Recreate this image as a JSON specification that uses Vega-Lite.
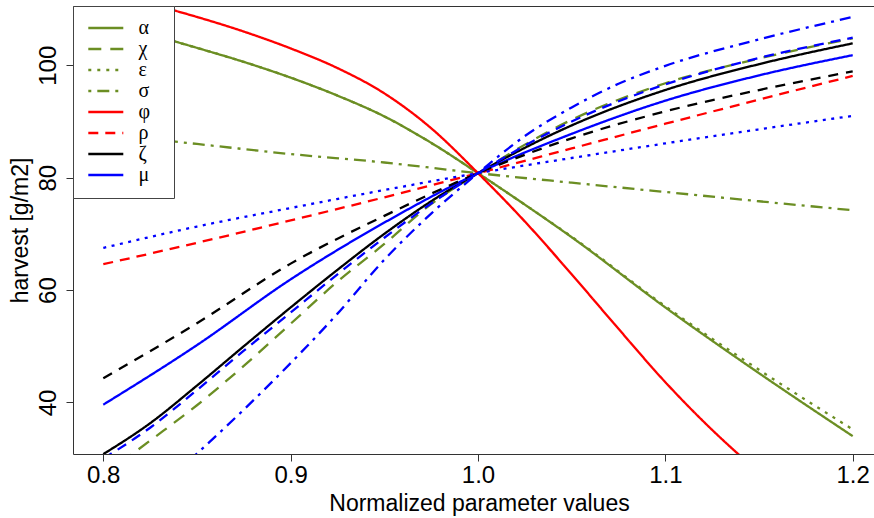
{
  "$schema": "https://vega.github.io/schema/vega-lite/v6.json",
  "autosize": {"type": "none"},
  "padding": {"left": 73, "top": 6, "right": 0, "bottom": 64},
  "width": 801,
  "height": 448,
  "background": "white",
  "config": {
    "view": {"stroke": null},
    "font": "Liberation Sans",
    "axis": {
      "grid": false,
      "domainColor": "#333",
      "tickColor": "#333",
      "labelColor": "black",
      "titleColor": "black",
      "labelFont": "Liberation Sans",
      "titleFont": "Liberation Sans",
      "titleFontWeight": "normal",
      "labelFontSize": 24,
      "titleFontSize": 23,
      "tickSize": 7
    },
    "legend": {
      "orient": "top-left",
      "offset": 0,
      "padding": 12.3,
      "strokeColor": "#444",
      "fillColor": "white",
      "cornerRadius": 0,
      "symbolType": "stroke",
      "symbolSize": 1225,
      "symbolStrokeWidth": 2.5,
      "symbolOffset": 1.5,
      "labelFont": "Liberation Serif",
      "labelFontSize": 20,
      "labelColor": "black",
      "labelOffset": 13.75,
      "clipHeight": 19.5,
      "rowPadding": 0,
      "titleOrient": "right",
      "titlePadding": 11,
      "titleFontSize": 10
    }
  },
  "data": {
    "values": [
      {"s": "α", "x": 0.8, "y": 107.8}, {"s": "α", "x": 0.85, "y": 103.1}, {"s": "α", "x": 0.875, "y": 100.6}, {"s": "α", "x": 0.9, "y": 97.8}, {"s": "α", "x": 0.925, "y": 94.6}, {"s": "α", "x": 0.95, "y": 90.9}, {"s": "α", "x": 0.975, "y": 86.2}, {"s": "α", "x": 1.0, "y": 80.8}, {"s": "α", "x": 1.025, "y": 75.2}, {"s": "α", "x": 1.05, "y": 69.4}, {"s": "α", "x": 1.1, "y": 56.9}, {"s": "α", "x": 1.15, "y": 45.2}, {"s": "α", "x": 1.2, "y": 34.0},

      {"s": "χ", "x": 0.8, "y": 27.0}, {"s": "χ", "x": 0.825, "y": 33.2}, {"s": "χ", "x": 0.85, "y": 39.5}, {"s": "χ", "x": 0.875, "y": 46.5}, {"s": "χ", "x": 0.9, "y": 54.0}, {"s": "χ", "x": 0.925, "y": 61.5}, {"s": "χ", "x": 0.95, "y": 68.2}, {"s": "χ", "x": 0.975, "y": 75.3}, {"s": "χ", "x": 1.0, "y": 80.8}, {"s": "χ", "x": 1.05, "y": 90.3}, {"s": "χ", "x": 1.1, "y": 96.8}, {"s": "χ", "x": 1.15, "y": 101.2}, {"s": "χ", "x": 1.2, "y": 104.8},

      {"s": "ε", "x": 0.8, "y": 107.8}, {"s": "ε", "x": 0.85, "y": 103.1}, {"s": "ε", "x": 0.875, "y": 100.6}, {"s": "ε", "x": 0.9, "y": 97.8}, {"s": "ε", "x": 0.925, "y": 94.6}, {"s": "ε", "x": 0.95, "y": 90.9}, {"s": "ε", "x": 0.975, "y": 86.2}, {"s": "ε", "x": 1.0, "y": 80.8}, {"s": "ε", "x": 1.025, "y": 75.2}, {"s": "ε", "x": 1.05, "y": 69.5}, {"s": "ε", "x": 1.1, "y": 57.1}, {"s": "ε", "x": 1.15, "y": 45.8}, {"s": "ε", "x": 1.2, "y": 35.2},

      {"s": "σ", "x": 0.8, "y": 87.8}, {"s": "σ", "x": 0.85, "y": 86.0}, {"s": "σ", "x": 0.9, "y": 84.2}, {"s": "σ", "x": 0.95, "y": 82.7}, {"s": "σ", "x": 1.0, "y": 80.8}, {"s": "σ", "x": 1.05, "y": 79.1}, {"s": "σ", "x": 1.1, "y": 77.45}, {"s": "σ", "x": 1.15, "y": 75.8}, {"s": "σ", "x": 1.2, "y": 74.2},

      {"s": "φ", "x": 0.8, "y": 112.8}, {"s": "φ", "x": 0.825, "y": 110.9}, {"s": "φ", "x": 0.85, "y": 108.6}, {"s": "φ", "x": 0.875, "y": 106.0}, {"s": "φ", "x": 0.9, "y": 103.0}, {"s": "φ", "x": 0.925, "y": 99.5}, {"s": "φ", "x": 0.95, "y": 95.0}, {"s": "φ", "x": 0.975, "y": 88.8}, {"s": "φ", "x": 1.0, "y": 80.8}, {"s": "φ", "x": 1.025, "y": 72.2}, {"s": "φ", "x": 1.05, "y": 62.8}, {"s": "φ", "x": 1.075, "y": 53.1}, {"s": "φ", "x": 1.1, "y": 43.6}, {"s": "φ", "x": 1.125, "y": 35.1}, {"s": "φ", "x": 1.15, "y": 27.6}, {"s": "φ", "x": 1.175, "y": 21.0}, {"s": "φ", "x": 1.2, "y": 15.0},

      {"s": "ρ", "x": 0.8, "y": 64.6}, {"s": "ρ", "x": 0.85, "y": 68.4}, {"s": "ρ", "x": 0.9, "y": 72.4}, {"s": "ρ", "x": 0.95, "y": 76.5}, {"s": "ρ", "x": 1.0, "y": 80.8}, {"s": "ρ", "x": 1.05, "y": 85.2}, {"s": "ρ", "x": 1.1, "y": 89.6}, {"s": "ρ", "x": 1.15, "y": 93.9}, {"s": "ρ", "x": 1.2, "y": 98.1},

      {"s": "ζ", "x": 0.8, "y": 30.8}, {"s": "ζ", "x": 0.825, "y": 36.3}, {"s": "ζ", "x": 0.85, "y": 43.0}, {"s": "ζ", "x": 0.875, "y": 50.0}, {"s": "ζ", "x": 0.9, "y": 56.9}, {"s": "ζ", "x": 0.925, "y": 63.6}, {"s": "ζ", "x": 0.95, "y": 70.0}, {"s": "ζ", "x": 0.975, "y": 75.8}, {"s": "ζ", "x": 1.0, "y": 80.8}, {"s": "ζ", "x": 1.05, "y": 89.3}, {"s": "ζ", "x": 1.1, "y": 95.6}, {"s": "ζ", "x": 1.15, "y": 100.2}, {"s": "ζ", "x": 1.2, "y": 103.9},

      {"s": "μ", "x": 0.8, "y": 39.6}, {"s": "μ", "x": 0.85, "y": 50.2}, {"s": "μ", "x": 0.9, "y": 61.9}, {"s": "μ", "x": 0.95, "y": 72.0}, {"s": "μ", "x": 1.0, "y": 80.8}, {"s": "μ", "x": 1.05, "y": 87.8}, {"s": "μ", "x": 1.1, "y": 93.7}, {"s": "μ", "x": 1.15, "y": 98.2}, {"s": "μ", "x": 1.2, "y": 101.8},

      {"s": "η", "x": 0.8, "y": 44.3}, {"s": "η", "x": 0.85, "y": 54.1}, {"s": "η", "x": 0.9, "y": 64.7}, {"s": "η", "x": 0.95, "y": 73.2}, {"s": "η", "x": 1.0, "y": 80.8}, {"s": "η", "x": 1.05, "y": 87.0}, {"s": "η", "x": 1.1, "y": 91.8}, {"s": "η", "x": 1.15, "y": 95.6}, {"s": "η", "x": 1.2, "y": 98.9},

      {"s": "ω", "x": 0.8, "y": 67.5}, {"s": "ω", "x": 0.85, "y": 71.3}, {"s": "ω", "x": 0.9, "y": 74.6}, {"s": "ω", "x": 0.95, "y": 77.8}, {"s": "ω", "x": 1.0, "y": 80.8}, {"s": "ω", "x": 1.05, "y": 83.5}, {"s": "ω", "x": 1.1, "y": 86.1}, {"s": "ω", "x": 1.15, "y": 88.6}, {"s": "ω", "x": 1.2, "y": 91.0},

      {"s": "ψ", "x": 0.8, "y": 30.0}, {"s": "ψ", "x": 0.825, "y": 35.5}, {"s": "ψ", "x": 0.85, "y": 42.2}, {"s": "ψ", "x": 0.875, "y": 49.2}, {"s": "ψ", "x": 0.9, "y": 56.0}, {"s": "ψ", "x": 0.925, "y": 62.8}, {"s": "ψ", "x": 0.95, "y": 69.3}, {"s": "ψ", "x": 0.975, "y": 75.4}, {"s": "ψ", "x": 1.0, "y": 80.8}, {"s": "ψ", "x": 1.05, "y": 90.0}, {"s": "ψ", "x": 1.1, "y": 96.6}, {"s": "ψ", "x": 1.15, "y": 101.3}, {"s": "ψ", "x": 1.2, "y": 104.9},

      {"s": "τ", "x": 0.8, "y": 16.5}, {"s": "τ", "x": 0.85, "y": 30.9}, {"s": "τ", "x": 0.9, "y": 47.0}, {"s": "τ", "x": 0.925, "y": 55.8}, {"s": "τ", "x": 0.95, "y": 65.4}, {"s": "τ", "x": 0.975, "y": 73.6}, {"s": "τ", "x": 1.0, "y": 80.8}, {"s": "τ", "x": 1.025, "y": 87.4}, {"s": "τ", "x": 1.05, "y": 92.5}, {"s": "τ", "x": 1.075, "y": 96.7}, {"s": "τ", "x": 1.1, "y": 99.9}, {"s": "τ", "x": 1.15, "y": 104.6}, {"s": "τ", "x": 1.2, "y": 108.6}
    ]
  },
  "resolve": {"axis": {"x": "independent"}},
  "layer": [
    {
      "mark": {"type": "line", "clip": true, "interpolate": "monotone", "strokeCap": "butt", "strokeWidth": 2.3},
      "encoding": {
        "x": {
          "field": "x", "type": "quantitative",
          "scale": {"domain": [0.78383, 1.21137], "nice": false, "zero": false},
          "axis": {
            "orient": "bottom",
            "values": [0.8, 0.9, 1.0, 1.1, 1.2],
            "format": ".1f",
            "labelPadding": 2,
            "title": "Normalized parameter values",
            "titlePadding": 5,
            "titleX": 406
          }
        },
        "y": {
          "field": "y", "type": "quantitative",
          "scale": {"domain": [30.82, 110.55], "nice": false, "zero": false},
          "axis": {
            "values": [40, 60, 80, 100],
            "labelAngle": -90,
            "labelPadding": 6,
            "title": "harvest [g/m2]",
            "titlePadding": 4
          }
        },
        "color": {
          "field": "s", "type": "nominal",
          "scale": {
            "domain": ["α", "χ", "ε", "σ", "φ", "ρ", "ζ", "μ", "η", "ω", "ψ", "τ"],
            "range": ["#6B8E23", "#6B8E23", "#6B8E23", "#6B8E23", "#FF0000", "#FF0000", "#000000", "#0000FF", "#000000", "#0000FF", "#0000FF", "#0000FF"]
          },
          "legend": {"title": " ", "values": ["α", "χ", "ε", "σ", "φ", "ρ", "ζ", "μ"]}
        },
        "strokeDash": {
          "field": "s", "type": "nominal",
          "scale": {
            "domain": ["α", "χ", "ε", "σ", "φ", "ρ", "ζ", "μ", "η", "ω", "ψ", "τ"],
            "range": [[1, 0], [13, 9], [3, 6], [3, 6, 12, 6], [1, 0], [10, 7], [1, 0], [1, 0], [10, 8], [3, 5.5], [10, 7], [3, 6, 11, 6]]
          },
          "legend": {"title": " ", "values": ["α", "χ", "ε", "σ", "φ", "ρ", "ζ", "μ"]}
        }
      }
    },
    {
      "mark": {"type": "rule", "opacity": 0},
      "encoding": {
        "x": {
          "field": "x", "type": "quantitative",
          "scale": {"domain": [0.78383, 1.21137], "nice": false, "zero": false},
          "axis": {"orient": "top", "labels": false, "ticks": false, "title": null, "domain": true}
        }
      }
    }
  ]
}
